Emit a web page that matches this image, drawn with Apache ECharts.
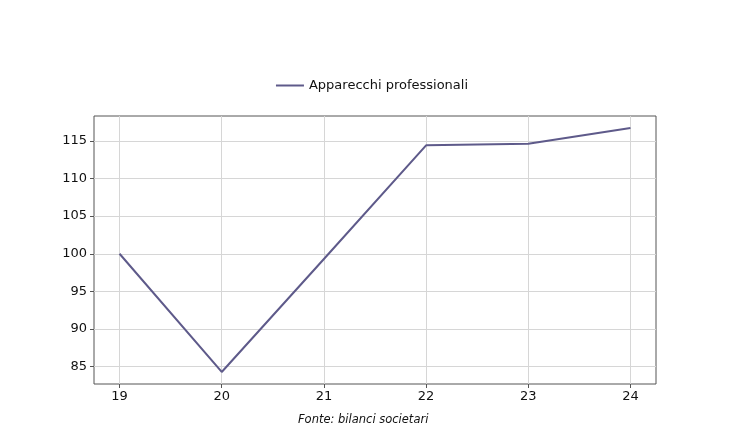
<!DOCTYPE html>
<html><head><meta charset="utf-8">
<script src="https://cdn.jsdelivr.net/npm/echarts@6/dist/echarts.min.js"></script>
<style>html,body{margin:0;padding:0;background:#fff}#c{width:744px;height:440px}</style>
</head><body><div id="c"></div>
<script>
const years = [19, 20, 21, 22, 23, 24];
const values = [100, 84.3, 99.3, 114.4, 114.6, 116.7];
const yTicks = [85, 90, 95, 100, 105, 110, 115];
const seriesName = 'Apparecchi professionali';
const sourceText = 'Fonte: bilanci societari';

const chart = echarts.init(document.getElementById('c'));
const font = 'DejaVu Sans';
const lineColor = '#5e5a8a';
chart.setOption({
  animation: false,
  backgroundColor: '#fff',
  legend: {
    top: 74, left: 'center',
    itemWidth: 28, itemHeight: 2, itemGap: 10,
    icon: 'rect',
    textStyle: {fontFamily: font, fontSize: 13, color: '#111'},
    data: [seriesName]
  },
  graphic: [{
    type: 'text', left: 298, top: 414,
    style: {text: sourceText, font: 'italic 11.5px "DejaVu Sans"', fill: '#111'}
  }],
  grid: {left: 94, right: 88, top: 116, bottom: 56, show: true, borderColor: '#555', borderWidth: 1},
  xAxis: {
    type: 'value', min: 18.75, max: 24.25,
    axisLine: {show: false},
    axisTick: {show: true, length: 4, lineStyle: {color: '#555'}, customValues: years},
    axisLabel: {customValues: years, fontFamily: font, fontSize: 13, color: '#111', margin: 6},
    splitLine: {show: true, lineStyle: {color: '#d6d6d6', width: 1}}
  },
  yAxis: {
    type: 'value', min: 82.7, max: 118.3,
    axisLine: {show: false},
    axisTick: {show: true, length: 4, lineStyle: {color: '#555'}, customValues: yTicks},
    axisLabel: {customValues: yTicks, fontFamily: font, fontSize: 13, color: '#111', margin: 7},
    splitLine: {show: true, lineStyle: {color: '#d6d6d6', width: 1}}
  },
  series: [{
    name: seriesName, type: 'line',
    data: years.map((y, i) => [y, values[i]]),
    showSymbol: false, symbol: 'none',
    lineStyle: {color: lineColor, width: 2},
    itemStyle: {color: lineColor}
  }]
});
</script></body></html>
